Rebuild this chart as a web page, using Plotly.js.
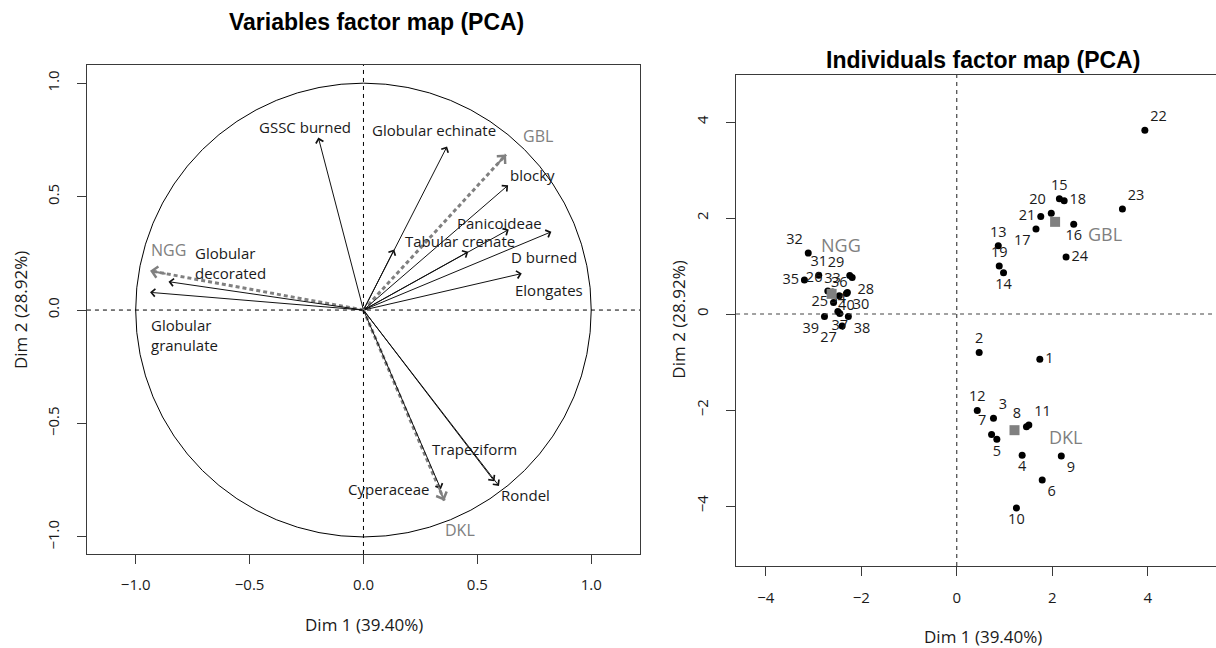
<!DOCTYPE html>
<html>
<head>
<meta charset="utf-8">
<script src="https://cdn.plot.ly/plotly-3.0.1.min.js"></script>
<style>html,body{margin:0;padding:0;background:#fff}#chart{width:1216px;height:648px}</style>
</head>
<body>
<div id="chart"></div>
<script>
// ---------- DATA: variables factor map ----------
const varNames = ['GSSC burned','Globular echinate','blocky','Panicoideae','Tabular crenate','D burned','Elongates','Globular<br>decorated','Globular<br>granulate','Trapeziform','Rondel','Cyperaceae',''];
const varDim1 = [-0.198, 0.367, 0.635, 0.638, 0.460, 0.825, 0.695, -0.856, -0.937, 0.575, 0.595, 0.340, 0.135];
const varDim2 = [ 0.760, 0.721, 0.550, 0.355, 0.257, 0.345, 0.161,  0.125,  0.078, -0.755, -0.775, -0.790, 0.267];

const supNames = ['NGG','GBL','DKL'];
const supDim1 = [-0.937, 0.626, 0.355];
const supDim2 = [ 0.173, 0.685, -0.840];

// ---------- DATA: individuals factor map ----------
const indIds = ['1','2','3','4','5','6','7','8','9','10','11','12','13','14','15','16','17','18','19','20','21','22','23','24','25','26','27','28','29','30','31','32','33','34','35','36','37','38','39','40'];
const indDim1 = [1.74,0.47,0.77,1.37,0.84,1.79,0.73,1.46,2.19,1.25,1.51,0.43, 0.87,0.98,2.15,2.45,1.66,2.25,0.89,1.98,1.76,3.94,3.47,2.29, -2.58,-2.70,-2.40,-2.19,-2.24,-2.29,-2.89,-3.11,-2.60,-2.49,-3.19,-2.46,-2.45,-2.27,-2.77,-2.31];
const indDim2 = [-0.94,-0.80,-2.17,-2.94,-2.61,-3.46,-2.51,-2.35,-2.96,-4.04,-2.31,-2.01, 1.42,0.86,2.40,1.87,1.77,2.36,1.00,2.10,2.03,3.83,2.19,1.19, 0.24,0.48,-0.25,0.76,0.80,0.45,0.81,1.27,0.46,0.05,0.71,0.38,0.01,-0.05,-0.05,0.43];

const grpNames = ['DKL','GBL','NGG'];
const grpDim1 = [1.21, 2.06, -2.62];
const grpDim2 = [-2.42, 1.92, 0.42];

const axisTitle1 = 'Dim 1 (39.40%)';
const axisTitle2 = 'Dim 2 (28.92%)';

// ---------- STYLE (label offsets in px, text positions) ----------
const varLabelShift = [[-13,11],[-13,16],[24,10],[-9,7],[-8,11],[-7,-25],[27,-16],[62,19],[34,-43],[-20,32],[27,-9],[-52,0],[0,0]];
const supLabelShift = [[18,21],[32,19],[16,-29]];
const indTextPos = ['middle right','top center','top right','bottom center','bottom center','bottom right','top left','top left','bottom right','bottom center','top right','top center',
  'top center','bottom center','top center','bottom center','bottom left','middle right','top center','top left','middle left','top right','top right','middle right',
  'middle left','top left','bottom left','bottom right','top left','bottom right','top center','top left','top center','top center','middle left','top center','bottom center','bottom right','bottom left','bottom center'];
const grpLabelShift = [[51,-7],[50,-12],[9,49]];

const TXT = '#1a1a1a', FR = '#3a3a3a', GREY = '#808080';
const F = 'Open Sans, Noto Sans, sans-serif';

const traces = [];
const shapes = [];
const annotations = [];

// dashed grey supplementary arrows (shafts)
supNames.forEach((n, i) => {
  traces.push({x:[0, supDim1[i]], y:[0, supDim2[i]], xaxis:'x', yaxis:'y', mode:'lines',
    line:{color:GREY, width:3, dash:'4px,3px'}, hoverinfo:'skip', showlegend:false});
});

// individuals
traces.push({x:indDim1, y:indDim2, xaxis:'x2', yaxis:'y2', mode:'markers+text', text:indIds,
  textposition:indTextPos, textfont:{family:F, size:14.5, color:TXT},
  marker:{color:'#000', size:7}, showlegend:false, cliponaxis:false});
// group barycentres
traces.push({x:grpDim1, y:grpDim2, xaxis:'x2', yaxis:'y2', mode:'markers',
  marker:{color:GREY, size:10, symbol:'square'}, showlegend:false});

// circle + zero lines (left)
shapes.push({type:'circle', xref:'x', yref:'y', x0:-1, x1:1, y0:-1, y1:1, line:{color:'#000', width:1}});
shapes.push({type:'line', xref:'x', yref:'y domain', x0:0, x1:0, y0:0, y1:1, line:{color:'#000', width:1, dash:'4px,4px'}});
shapes.push({type:'line', xref:'x domain', yref:'y', x0:0, x1:1, y0:0, y1:0, line:{color:'#000', width:1, dash:'4px,4px'}});
// zero lines (right)
shapes.push({type:'line', xref:'x2', yref:'y2 domain', x0:0, x1:0, y0:0, y1:1, line:{color:'#444', width:1.2, dash:'4px,4px'}});
shapes.push({type:'line', xref:'x2 domain', yref:'y2', x0:0, x1:1, y0:0, y1:0, line:{color:'#444', width:1.2, dash:'4px,4px'}});

// black arrows
varNames.forEach((n, i) => {
  annotations.push({xref:'x', yref:'y', axref:'x', ayref:'y', x:varDim1[i], y:varDim2[i], ax:0, ay:0,
    text:'', showarrow:true, arrowhead:4, arrowsize:1.5, arrowwidth:1, arrowcolor:'#111', standoff:0, startstandoff:0});
  if (n) annotations.push({xref:'x', yref:'y', x:varDim1[i], y:varDim2[i], text:n, showarrow:false,
    xshift:varLabelShift[i][0], yshift:varLabelShift[i][1], align:'left', font:{family:F, size:15, color:TXT}});
});
// grey arrow heads and labels
supNames.forEach((n, i) => {
  annotations.push({xref:'x', yref:'y', axref:'x', ayref:'y', x:supDim1[i], y:supDim2[i], ax:supDim1[i]*0.92, ay:supDim2[i]*0.92,
    text:'', showarrow:true, arrowhead:4, arrowsize:1.1, arrowwidth:2, arrowcolor:GREY, standoff:0});
  annotations.push({xref:'x', yref:'y', x:supDim1[i], y:supDim2[i], text:n, showarrow:false,
    xshift:supLabelShift[i][0], yshift:supLabelShift[i][1], font:{family:F, size:16, color:GREY}});
});
// group labels on right
grpNames.forEach((n, i) => {
  annotations.push({xref:'x2', yref:'y2', x:grpDim1[i], y:grpDim2[i], text:n, showarrow:false,
    xshift:grpLabelShift[i][0], yshift:grpLabelShift[i][1], font:{family:F, size:18, color:GREY}});
});
// titles
const TF = {family:'Liberation Sans, Arial, sans-serif', size:23, color:'#000'};
annotations.push({xref:'paper', yref:'paper', x:0.3095, y:0.966, text:'<b>Variables factor map (PCA)</b>', showarrow:false, xanchor:'center', yanchor:'middle', font:TF});
annotations.push({xref:'paper', yref:'paper', x:0.8084, y:0.9074, text:'<b>Individuals factor map (PCA)</b>', showarrow:false, xanchor:'center', yanchor:'middle', font:TF});
const AF = {family:F, size:17, color:TXT};
annotations.push({xref:'paper', yref:'paper', x:0.299, y:0.0355, text:axisTitle1, showarrow:false, xanchor:'center', yanchor:'middle', font:AF});
annotations.push({xref:'paper', yref:'paper', x:0.8084, y:0.017, text:axisTitle1, showarrow:false, xanchor:'center', yanchor:'middle', font:AF});
annotations.push({xref:'paper', yref:'paper', x:0.01645, y:0.5216, text:axisTitle2, textangle:-90, showarrow:false, xanchor:'center', yanchor:'middle', font:AF});
annotations.push({xref:'paper', yref:'paper', x:0.558, y:0.506, text:axisTitle2, textangle:-90, showarrow:false, xanchor:'center', yanchor:'middle', font:AF});

const baseAxis = {showgrid:false, zeroline:false, showline:true, linecolor:FR, linewidth:1,
  ticks:'outside', ticklen:9, tickcolor:FR, tickwidth:1, tickfont:{family:F, size:15, color:TXT}, fixedrange:true};

const layout = {
  width:1216, height:648, margin:{l:0, r:0, t:0, b:0}, paper_bgcolor:'#fff', plot_bgcolor:'#fff', showlegend:false,
  xaxis: Object.assign({}, baseAxis, {domain:[0.0715, 0.5263], range:[-1.214, 1.214], dtick:0.5, tickformat:'.1f', mirror:true, ticklabelstandoff:8}),
  yaxis: Object.assign({}, baseAxis, {domain:[0.1451, 0.8997], range:[-1.075, 1.08], dtick:0.5, tickformat:'.1f', mirror:true, tickangle:-90, ticklabelstandoff:12}),
  xaxis2: Object.assign({}, baseAxis, {domain:[0.6053, 1], range:[-4.622, 5.43], tickvals:[-4,-2,0,2,4], mirror:true, anchor:'y2', ticklabelstandoff:9}),
  yaxis2: Object.assign({}, baseAxis, {domain:[0.1265, 0.8843], range:[-5.25, 4.98], tickvals:[-4,-2,0,2,4], mirror:false, anchor:'x2', tickangle:-90, ticklabelstandoff:12}),
  shapes: shapes, annotations: annotations
};

Plotly.newPlot('chart', traces, layout, {staticPlot:true, displayModeBar:false});
</script>
</body>
</html>
